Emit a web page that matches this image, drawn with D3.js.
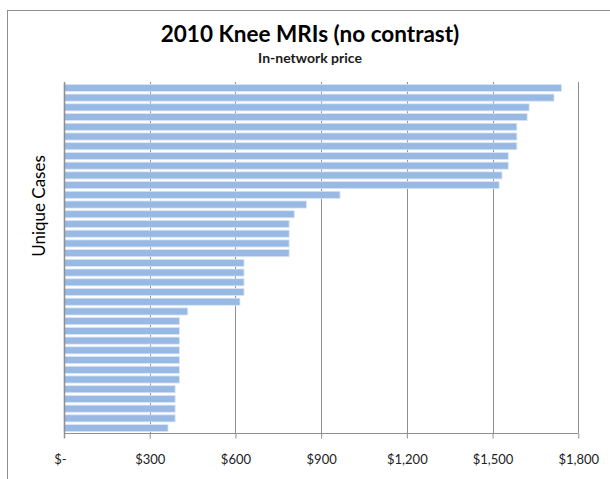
<!DOCTYPE html>
<html>
<head>
<meta charset="utf-8">
<script src="https://cdn.jsdelivr.net/npm/d3@7"></script>
<style>
  html, body { margin: 0; padding: 0; background: #fff; }
  svg { display: block; }
</style>
</head>
<body>
<svg id="chart" width="610" height="479"></svg>
<script>
// Data (top to bottom as drawn)
const prices = [1741, 1715, 1628, 1621, 1585, 1585, 1585, 1555, 1555, 1533, 1523,
  966, 849, 806, 788, 788, 788, 788, 630, 630, 630, 630, 616, 433,
  404, 404, 404, 404, 404, 404, 404, 389, 389, 389, 389, 364];
const cases = prices.map((_, i) => "Case " + (i + 1));
const tickValues = [0, 300, 600, 900, 1200, 1500, 1800];
const tickLabels = ["$-", "$300", "$600", "$900", "$1,200", "$1,500", "$1,800"];
const title = "2010 Knee MRIs (no contrast)";
const subtitle = "In-network price";
const yTitle = "Unique Cases";

(function () {
const svg = d3.select("#chart");
const font = "Lato, 'Open Sans', sans-serif";
const gridColor = "#8f8f8f";

// chart border
svg.append("rect")
  .attr("x", 7.5).attr("y", 10.5)
  .attr("width", 700).attr("height", 600)
  .attr("fill", "#fff").attr("stroke", gridColor).attr("stroke-width", 1);

const pLeft = 64, pRight = 578.3, pTop = 82, pBottom = 433;

const x = d3.scaleLinear().domain([0, 1800]).range([pLeft, pRight]);
const y = d3.scaleBand().domain(cases).range([pTop + 1, pBottom]).paddingInner(0.27).paddingOuter(0.14);

// gridlines
svg.append("g").selectAll("line")
  .data(tickValues.slice(1))
  .join("line")
  .attr("x1", d => Math.round(x(d)) + 0.5).attr("x2", d => Math.round(x(d)) + 0.5)
  .attr("y1", pTop).attr("y2", pBottom)
  .attr("stroke", gridColor).attr("stroke-width", 1);

// bars
svg.append("g").selectAll("rect")
  .data(prices)
  .join("rect")
  .attr("x", x(0))
  .attr("y", (d, i) => y(cases[i]))
  .attr("width", d => x(d) - x(0))
  .attr("height", y.bandwidth())
  .attr("fill", "#97b9e4")
  .attr("stroke", "#dbe6f4")
  .attr("stroke-width", 0.8);

// left axis line
svg.append("line")
  .attr("x1", Math.round(x(0)) + 0.5).attr("x2", Math.round(x(0)) + 0.5)
  .attr("y1", pTop).attr("y2", pBottom + 5)
  .attr("stroke", gridColor).attr("stroke-width", 1.5);

// bottom axis
const xAxis = d3.axisBottom(x)
  .tickValues(tickValues)
  .tickSize(5)
  .tickFormat((d, i) => tickLabels[i]);
const gx = svg.append("g").attr("transform", `translate(0,${pBottom + 0.5})`).call(xAxis);
gx.select(".domain").attr("stroke", gridColor).attr("d", `M${x(0)},0H${x(1800)}`);
gx.selectAll(".tick line").attr("stroke", gridColor);
gx.selectAll(".tick text")
  .attr("y", 21)
  .attr("fill", "#222")
  .style("font-family", font)
  .style("font-size", "13px");
gx.selectAll(".tick text").filter(d => d === 0).attr("dx", -4);

// titles
svg.append("text")
  .attr("x", 310).attr("y", 42)
  .attr("text-anchor", "middle")
  .style("font-family", font).style("font-weight", "bold").style("font-size", "22.5px")
  .attr("fill", "#000")
  .text(title);
svg.append("text")
  .attr("x", 310).attr("y", 62.5)
  .attr("text-anchor", "middle")
  .style("font-family", font).style("font-weight", "bold").style("font-size", "14px")
  .attr("fill", "#1a1a1a")
  .text(subtitle);
svg.append("text")
  .attr("transform", "translate(45,206) rotate(-90)")
  .attr("text-anchor", "middle")
  .style("font-family", font).style("font-size", "17px")
  .attr("fill", "#000")
  .text(yTitle);
})();
</script>
</body>
</html>
